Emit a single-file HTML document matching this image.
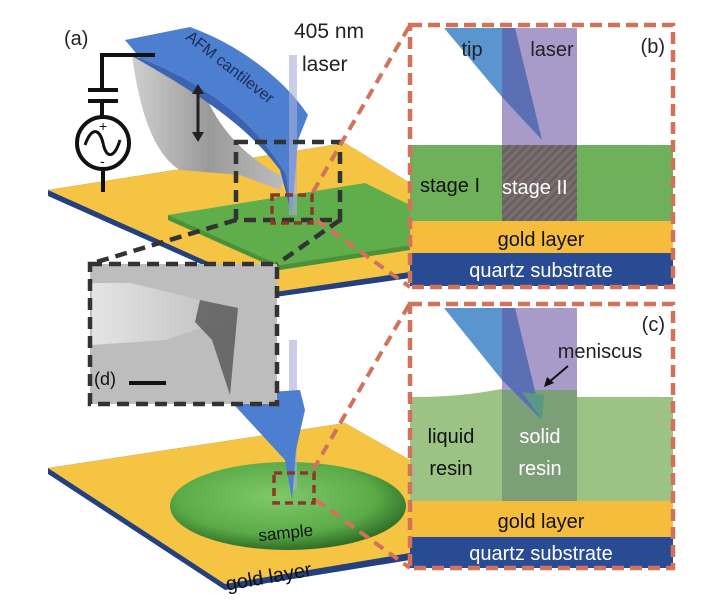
<!DOCTYPE html>
<html><head><meta charset="utf-8"><style>
html,body{margin:0;padding:0;background:#fff;}
svg{display:block;font-family:"Liberation Sans","DejaVu Sans",sans-serif;}
</style></head><body>
<svg width="719" height="600" viewBox="0 0 719 600" xmlns="http://www.w3.org/2000/svg">
<defs>
<pattern id="hatch" width="6" height="6" patternUnits="userSpaceOnUse" patternTransform="rotate(45)">
<rect width="6" height="6" fill="#7a6e6e"/><rect width="3" height="6" fill="#6a5f62"/></pattern>
<linearGradient id="gr" x1="0" y1="0" x2="1" y2="0"><stop offset="0" stop-color="#cfcfcf"/><stop offset="0.5" stop-color="#9a9a9a"/><stop offset="1" stop-color="#bcbcbc"/></linearGradient>
<radialGradient id="eg" cx="0.45" cy="0.4" r="0.6"><stop offset="0" stop-color="#7fc86a"/><stop offset="0.7" stop-color="#5aab47"/><stop offset="1" stop-color="#2f6e27"/></radialGradient>
<linearGradient id="dg" x1="0" y1="0" x2="1" y2="0"><stop offset="0" stop-color="#e4e4e4"/><stop offset="1" stop-color="#bdbdbd"/></linearGradient>
</defs>

<!-- TOP PLANE -->
<polygon points="48,196 48,190 345,143 410,183 410,278 275,297 " fill="#24407f"/>
<polygon points="48,190 345,143 410,183 410,272 275,292" fill="#f6c443"/>
<polygon points="168,215 365,183 410,205 410,245 280,265" fill="#5fae4b"/>
<polygon points="168,215 168,220 280,270 410,250 410,245 280,265" fill="#4a9239"/>

<!-- cantilever holder grey -->
<path d="M132,55 C140,115 155,155 180,170 L240,175 L280,190 L285,178 C250,160 215,130 200,80 C185,70 160,60 132,55 Z" fill="url(#gr)"/>
<!-- blue cantilever -->
<path d="M125,40 L190,27 C240,45 285,80 308,115 L298,140 L292,215 L286,175 C260,130 220,90 140,58 Z" fill="#4d7fd0"/>
<path d="M140,58 C220,90 260,130 286,175 L292,215 L280,170 C250,130 210,100 132,56Z" fill="#3a64b0"/>
<text x="185" y="42" font-size="16" fill="#1c2c55" transform="rotate(38 190 40)">AFM cantilever</text>
<!-- laser -->
<rect x="289" y="55" width="8" height="160" fill="#aaaed8" opacity="0.6"/>
<text x="294" y="38" font-size="21" fill="#222">405 nm</text>
<text x="302" y="71" font-size="21" fill="#222">laser</text>
<text x="64" y="45" font-size="20" fill="#222">(a)</text>

<!-- circuit -->
<g stroke="#111" stroke-width="4" fill="none">
<polyline points="155,55 102,55 102,89"/>
<line x1="88" y1="90" x2="118" y2="90"/><line x1="88" y1="101" x2="118" y2="101"/>
<line x1="102" y1="101" x2="102" y2="117"/>
<circle cx="103" cy="143" r="26"/>
<path d="M85,145 C92,125 100,130 103,143 C106,158 114,160 120,140" stroke-width="3"/>
<line x1="103" y1="169" x2="103" y2="192"/>
</g>
<text x="99" y="131" font-size="14" fill="#111">+</text>
<text x="100" y="166" font-size="14" fill="#111">-</text>
<g stroke="#222" stroke-width="3"><line x1="198" y1="90" x2="198" y2="136"/></g>
<polygon points="198,84 192,94 204,94" fill="#222"/><polygon points="198,142 192,132 204,132" fill="#222"/>

<!-- black dashed box -->
<g stroke="#333" stroke-width="4.5" fill="none" stroke-dasharray="12,7">
<rect x="236" y="142" width="104" height="78"/>
<line x1="236" y1="220" x2="90" y2="264"/>
<line x1="340" y1="220" x2="277" y2="264"/>
</g>

<!-- BOTTOM PLANE -->
<polygon points="48,468 345,423 410,460 410,560 225,590 48,474" fill="#24407f"/>
<polygon points="48,468 345,423 410,460 410,553 225,584" fill="#f6c443"/>
<ellipse cx="288" cy="506" rx="118" ry="44" fill="url(#eg)"/>
<text x="258" y="538" font-size="17" fill="#111" transform="rotate(-6 290 530)">sample</text>
<text x="225" y="583" font-size="20" fill="#111" transform="rotate(-10 270 575)">gold layer</text>
<!-- lower tip -->
<rect x="289" y="340" width="8" height="150" fill="#aaaed8" opacity="0.6"/>
<path d="M225,395 L300,390 L305,410 L296,450 L292,500 L285,460 Z" fill="#4d7fd0"/>

<!-- inset d -->
<rect x="90" y="264" width="187" height="140" fill="#bdbdbd"/>
<polygon points="92,283 130,283 160,290 200,300 236,308 238,320 208,326 165,340 92,345" fill="url(#dg)"/>
<polygon points="200,300 238,308 230,395 212,340 195,322" fill="#555" opacity="0.8"/>
<text x="94" y="385" font-size="18" fill="#111">(d)</text>
<rect x="129" y="381" width="37" height="4" fill="#111"/>
<rect x="90" y="264" width="187" height="140" fill="none" stroke="#333" stroke-width="4.5" stroke-dasharray="12,7"/>

<!-- red small boxes and connectors -->
<g stroke="#d0735a" stroke-width="4" fill="none" stroke-dasharray="11,7">
<line x1="313" y1="192" x2="410" y2="25"/>
<line x1="316" y1="220" x2="410" y2="287"/>
<line x1="313" y1="470" x2="410" y2="303"/>
<line x1="316" y1="500" x2="410" y2="568"/>
</g>
<g stroke="#8a3a26" stroke-width="3.5" fill="none" stroke-dasharray="8,5">
<rect x="272" y="195" width="40" height="28"/>
<rect x="274" y="473" width="40" height="30"/>
</g>

<!-- PANEL B -->
<rect x="410" y="145" width="263" height="76" fill="#6fb15a"/>
<rect x="410" y="221" width="263" height="32" fill="#f6bc3c"/>
<rect x="410" y="253" width="263" height="33" fill="#294b93"/>
<rect x="502" y="28" width="75" height="117" fill="#a89bc9"/>
<rect x="502" y="145" width="75" height="76" fill="url(#hatch)"/>
<polygon points="444,28 502,28 502,97" fill="#5b95d0"/>
<polygon points="502,28 515,28 542,140 502,97" fill="#5b6fb5"/>
<text x="472" y="56" font-size="20" fill="#222" text-anchor="middle">tip</text>
<text x="552" y="56" font-size="20" fill="#222" text-anchor="middle">laser</text>
<text x="665" y="53" font-size="20" fill="#222" text-anchor="end">(b)</text>
<text x="420" y="192" font-size="20" fill="#111">stage I</text>
<text x="502" y="194" font-size="20" fill="#fff">stage II</text>
<text x="541" y="246" font-size="20" fill="#111" text-anchor="middle">gold layer</text>
<text x="541" y="277" font-size="20" fill="#fff" text-anchor="middle">quartz substrate</text>
<rect x="410" y="25" width="263" height="262" fill="none" stroke="#d0735a" stroke-width="4.5" stroke-dasharray="12,6"/>

<!-- PANEL C -->
<path d="M410,397 C470,397 490,390 510,388 C540,388 560,398 577,397 L673,397 L673,501 L410,501 Z" fill="#9cc384"/>
<rect x="410" y="501" width="263" height="36" fill="#f6bc3c"/>
<rect x="410" y="537" width="263" height="31" fill="#294b93"/>
<rect x="502" y="308" width="75" height="82" fill="#a89bc9"/>
<rect x="502" y="390" width="75" height="111" fill="#7d9f77"/>
<polygon points="444,308 502,308 502,380" fill="#5b95d0"/>
<polygon points="502,308 515,308 542,420 502,380" fill="#5b6fb5"/>
<polygon points="522,392 544,395 542,420" fill="#5a9a84"/>
<text x="600" y="358" font-size="20" fill="#222" text-anchor="middle">meniscus</text>
<line x1="568" y1="366" x2="548" y2="383" stroke="#111" stroke-width="2"/>
<polygon points="544,387 547,377 554,383" fill="#111"/>
<text x="665" y="331" font-size="20" fill="#222" text-anchor="end">(c)</text>
<text x="451" y="443" font-size="20" fill="#111" text-anchor="middle">liquid</text>
<text x="451" y="475" font-size="20" fill="#111" text-anchor="middle">resin</text>
<text x="540" y="443" font-size="20" fill="#fff" text-anchor="middle">solid</text>
<text x="540" y="475" font-size="20" fill="#fff" text-anchor="middle">resin</text>
<text x="541" y="528" font-size="20" fill="#111" text-anchor="middle">gold layer</text>
<text x="541" y="560" font-size="20" fill="#fff" text-anchor="middle">quartz substrate</text>
<rect x="410" y="304" width="263" height="264" fill="none" stroke="#d0735a" stroke-width="4.5" stroke-dasharray="12,6"/>
</svg>
</body></html>
